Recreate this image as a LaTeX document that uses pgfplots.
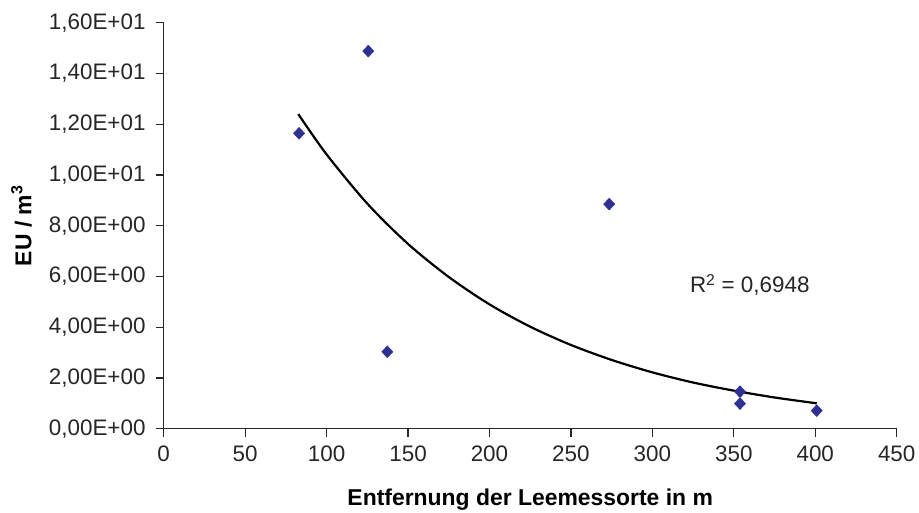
\documentclass[border=0pt]{standalone}
\usepackage{fontspec}
\setmainfont{Liberation Sans}
\usepackage{pgfplots}
\pgfplotsset{compat=1.18}
\definecolor{navy}{HTML}{2E3192}
\begin{document}
\begin{tikzpicture}[x=1bp,y=1bp]
\begin{axis}[
  at={(0,0)}, anchor=south west,
  scale only axis, width=733bp, height=406bp,
  xmin=0, xmax=450, ymin=0, ymax=16,
  axis x line=bottom, axis y line=left,
  axis line style={black!85, line width=1.3bp, -},
  xtick={0,50,...,450}, ytick={0,2,...,16},
  yticklabels={{0,00E+00},{2,00E+00},{4,00E+00},{6,00E+00},{8,00E+00},{1,00E+01},{1,20E+01},{1,40E+01},{1,60E+01}},
  tick align=outside, major tick length=8bp,
  tick style={black!85, line width=1.2bp},
  /pgf/number format/assume math mode=true,
  ticklabel style={font=\fontsize{22.5}{26}\selectfont, text=black!85},
  yticklabel style={inner sep=0pt, xshift=-10bp},
  xticklabel style={inner sep=0pt, yshift=-9bp},
  xlabel={\textbf{Entfernung der Leemessorte in m}},
  ylabel={\textbf{EU / m\textsuperscript{3}}},
  label style={font=\fontsize{23}{27}\selectfont, text=black},
  xlabel style={at={(axis description cs:0.5,0)}, anchor=center, yshift=-71bp},
  ylabel style={at={(axis description cs:-0.194,0.5)}, anchor=center},
  clip=false,
]
\addplot[only marks, mark=diamond*, mark size=6bp, color=navy, mark options={xscale=1.25}] coordinates {
  (83.1,11.64) (125.6,14.88) (137.3,3.03) (273.5,8.85)
  (353.8,1.46) (353.8,0.99) (400.9,0.71)
};
\addplot[black, line width=2.2bp, smooth] coordinates {
  (82.6,12.40) (100,10.81) (125,8.87) (150,7.28) (175,5.98) (200,4.90)
  (225,4.02) (250,3.30) (275,2.71) (300,2.22) (325,1.82) (350,1.50)
  (375,1.23) (400.9,1.00)
};
\node[anchor=west, font=\fontsize{22.5}{26}\selectfont, text=black!85, inner sep=0pt] at (axis cs:323,5.66) {R\textsuperscript{2} = 0,6948};
\end{axis}
\pgfresetboundingbox
\path (-163.7,-84.3) rectangle (755.3,428.7);
\end{tikzpicture}
\end{document}
